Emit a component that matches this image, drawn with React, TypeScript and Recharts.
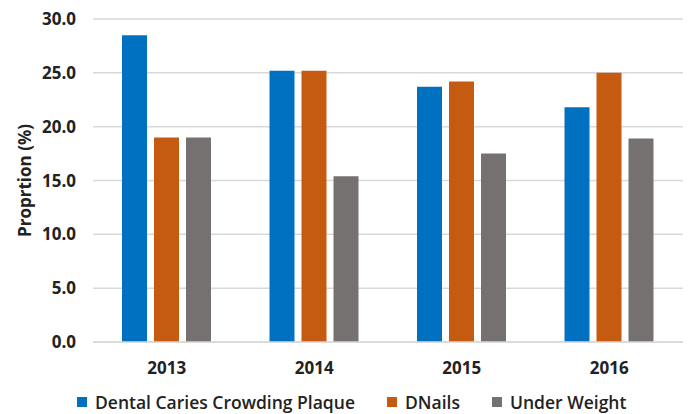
import { BarChart, Bar, XAxis, YAxis, CartesianGrid, Legend } from 'recharts';

const years = ['2013', '2014', '2015', '2016'];
const cariesCrowdingPlaque = [28.5, 25.2, 23.7, 21.8];
const dNails = [19.0, 25.2, 24.2, 25.0];
const underWeight = [19.0, 15.4, 17.5, 18.9];
const yTicks = [0, 5, 10, 15, 20, 25, 30];

const series = [
  { key: 'caries', name: 'Dental Caries Crowding Plaque', color: '#0070C0' },
  { key: 'dnails', name: 'DNails', color: '#C55A11' },
  { key: 'under', name: 'Under Weight', color: '#767171' },
];

const data = years.map((year, i) => ({
  year,
  caries: cariesCrowdingPlaque[i],
  dnails: dNails[i],
  under: underWeight[i],
}));

const FONT = '"Open Sans", sans-serif';

function LegendRow() {
  return (
    <div style={{ height: 34, display: 'flex', alignItems: 'center', paddingLeft: 77, paddingTop: 10, boxSizing: 'border-box', fontFamily: FONT, fontSize: 17.5, fontWeight: 600, color: '#222' }}>
      {series.map((s) => (
        <div key={s.key} style={{ display: 'flex', alignItems: 'center', marginRight: 32 }}>
          <span style={{ width: 10, height: 10, background: s.color, display: 'inline-block', marginRight: 8 }} />
          <span>{s.name}</span>
        </div>
      ))}
    </div>
  );
}

export default function App() {
  return (
    <div style={{ position: 'absolute', left: 0, top: 0, width: 691, height: 414, background: '#fff' }}>
      <BarChart width={691} height={414} data={data} margin={{ top: 19, right: 8, bottom: 0, left: 0 }} barSize={25} barGap={7}>
        <CartesianGrid vertical={false} stroke="#d9d9d9" strokeWidth={1.5} />
        <XAxis
          dataKey="year"
          height={38}
          axisLine={{ stroke: '#d9d9d9', strokeWidth: 1.5 }}
          tickLine={false}
          tickSize={0}
          tickMargin={20}
          tick={{ fill: '#222', fontSize: 17, fontWeight: 700, fontFamily: FONT }}
        />
        <YAxis
          width={93}
          domain={[0, 30]}
          ticks={yTicks}
          interval={0}
          axisLine={false}
          tickLine={false}
          tickSize={0}
          tickMargin={17}
          tickFormatter={(v: number) => v.toFixed(1)}
          tick={{ fill: '#222', fontSize: 17, fontWeight: 700, fontFamily: FONT }}
          label={{ value: 'Proprtion (%)', angle: -90, position: 'center', dx: -22, style: { fill: '#222', fontSize: 17, fontWeight: 700, fontFamily: FONT } }}
        />
        <Legend verticalAlign="bottom" height={34} content={() => <LegendRow />} />
        {series.map((s) => (
          <Bar key={s.key} dataKey={s.key} name={s.name} fill={s.color} isAnimationActive={false} />
        ))}
      </BarChart>
    </div>
  );
}
